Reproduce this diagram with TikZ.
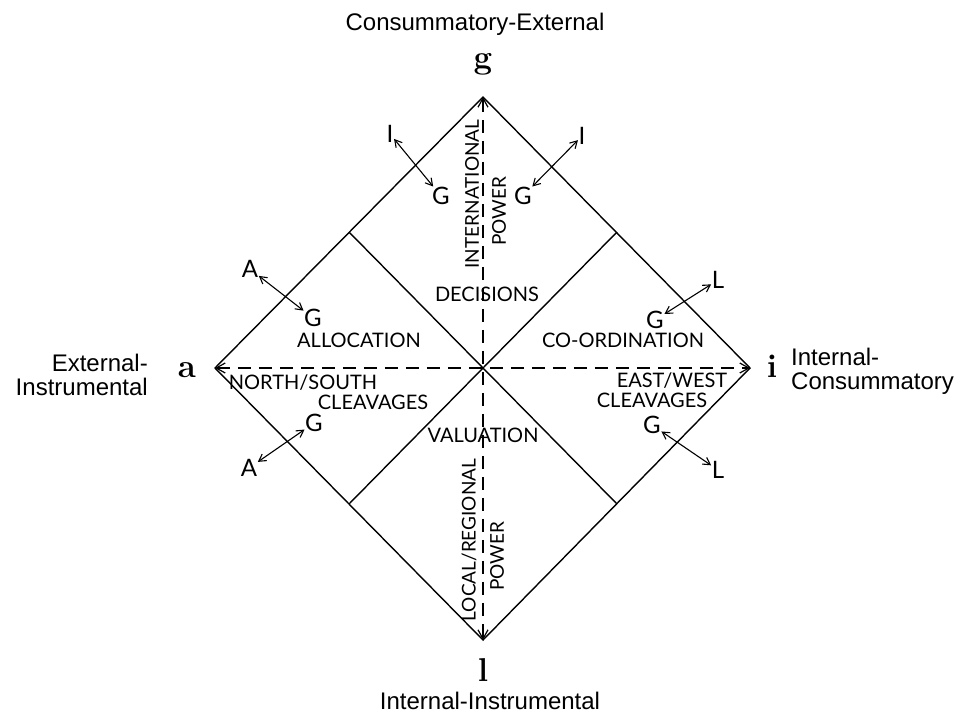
\documentclass[tikz,border=0pt]{standalone}
\usepackage{fontspec}
\newfontfamily\outerfont{Liberation Sans}
\newfontfamily\gillish{Lato}
\usetikzlibrary{arrows.meta}
\begin{document}
\begin{tikzpicture}[x=1pt,y=-1pt,
  edge/.style={line width=1.4pt, line join=miter},
  axisline/.style={line width=1.2pt, dash pattern=on 13pt off 8pt,
    {Straight Barb[length=9pt,width=10pt,line width=1.2pt]}-{Straight Barb[length=9pt,width=10pt,line width=1.2pt]}},
  rel/.style={line width=1.1pt,
    {Straight Barb[length=7pt,width=8pt]}-{Straight Barb[length=7pt,width=8pt]}},
  lab/.style={font=\gillish\fontsize{20}{22}\selectfont, inner sep=0pt, align=center},
  rlab/.style={font=\gillish\fontsize{19}{21}\selectfont, inner sep=0pt, rotate=90},
  fn/.style={font=\gillish\fontsize{24}{26}\selectfont, inner sep=0.5pt},
  pole/.style={font=\bfseries\fontsize{33}{36}\selectfont, inner sep=1pt},
  outer/.style={font=\outerfont\fontsize{24}{24}\selectfont, inner sep=0pt}
]
\useasboundingbox (0,0) rectangle (964,713);
\fill[white] (0,0) rectangle (964,713);

% diamond
\coordinate (T) at (483,97);
\coordinate (B) at (483,640);
\coordinate (L) at (215,368);
\coordinate (R) at (750,368);
\coordinate (C) at (483,368);
\coordinate (m1) at (349,232);
\coordinate (m2) at (617,232);
\coordinate (m3) at (349,504);
\coordinate (m4) at (617,504);

\draw[edge] (T) -- (R) -- (B) -- (L) -- cycle;
\draw[edge] (m1) -- (m4);
\draw[edge] (m2) -- (m3);
\draw[axisline] (L) -- (R);
\draw[axisline] (T) -- (B);

% poles
\node[pole] (g) at (483,64) {g};
\node[pole] (a) at (187,370) {a};
\node[pole] (i) at (772,366) {i};
\node[pole] (l) at (483,670) {l};

\node[outer] (ce) at (475,24) {Consummatory-External};
\node[outer, anchor=east, align=right] (ei) at (148,375) {External-\\Instrumental};
\node[outer, anchor=west, align=left] (ic) at (791,371) {Internal-\\Consummatory};
\node[outer] (ii) at (490,701) {Internal-Instrumental};

% inner labels
\node[rlab] (intl) at (472,194) {INTERNATIONAL};
\node[rlab] (pw1) at (499,211) {POWER};
\node[lab] (dec) at (487,294) {DECISIONS};
\node[lab] (alloc) at (359,340) {ALLOCATION};
\node[lab] (coord) at (623,340) {CO-ORDINATION};
\node[lab] (ns) at (303,383) {NORTH/SOUTH};
\node[lab] (cl1) at (373,402) {CLEAVAGES};
\node[lab] (ew) at (672,381) {EAST/WEST};
\node[lab] (cl2) at (652,400) {CLEAVAGES};
\node[lab] (val) at (483,435) {VALUATION};
\node[rlab] (loc) at (469,540) {LOCAL/REGIONAL};
\node[rlab] (pw2) at (497,556) {POWER};

% functional letters
\node[fn] (I1) at (390,134) {I};
\node[fn] (G1) at (441,196) {G};
\node[fn] (I2) at (582,136) {I};
\node[fn] (G2) at (523,196) {G};
\node[fn] (A1) at (250,269) {A};
\node[fn] (G3) at (313,318) {G};
\node[fn] (A2) at (249,468) {A};
\node[fn] (G4) at (314,423) {G};
\node[fn] (L1) at (718,280) {L};
\node[fn] (G5) at (655,320) {G};
\node[fn] (L2) at (718,470) {L};
\node[fn] (G6) at (652,425) {G};

\draw[rel] (I1) -- (G1);
\draw[rel] (I2) -- (G2);
\draw[rel] (A1) -- (G3);
\draw[rel] (A2) -- (G4);
\draw[rel] (L1) -- (G5);
\draw[rel] (L2) -- (G6);
\end{tikzpicture}
\end{document}
